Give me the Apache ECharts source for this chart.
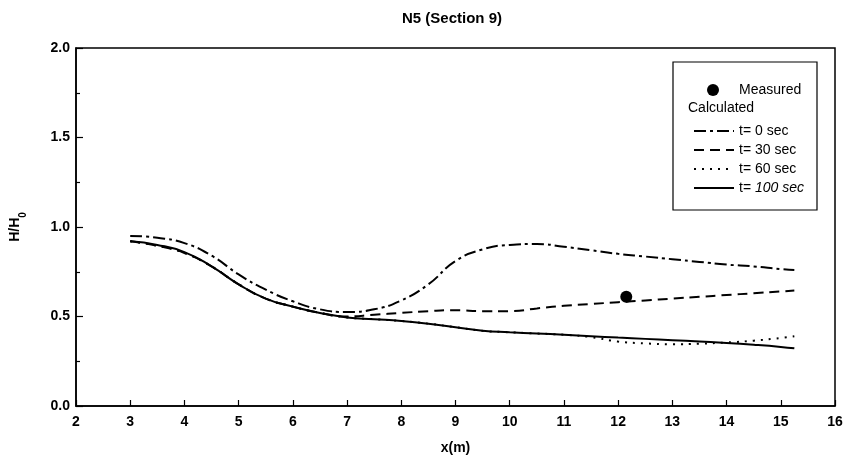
<!DOCTYPE html>
<html><head><meta charset="utf-8">
<script src="https://cdn.jsdelivr.net/npm/echarts@6/dist/echarts.min.js"></script>
<style>html,body{margin:0;padding:0;background:#fff}#c{width:850px;height:468px}</style>
</head><body><div id="c"></div>
<script>
const xs = [3,3.5,4,4.5,5,5.5,6,6.5,7,7.5,8,8.5,9,9.5,10,10.5,11,11.5,12,12.5,13,13.5,14,14.5,15,15.25];
const t0 = [0.95,0.94,0.91,0.84,0.735,0.65,0.585,0.54,0.525,0.54,0.59,0.68,0.81,0.875,0.9,0.905,0.89,0.87,0.85,0.835,0.82,0.805,0.79,0.78,0.765,0.76];
const t30 = [0.92,0.895,0.855,0.78,0.68,0.6,0.555,0.52,0.5,0.51,0.52,0.53,0.535,0.53,0.53,0.545,0.56,0.57,0.58,0.59,0.6,0.61,0.62,0.63,0.64,0.645];
const t60 = [0.92,0.895,0.855,0.78,0.68,0.6,0.555,0.52,0.495,0.485,0.475,0.46,0.44,0.42,0.412,0.405,0.398,0.385,0.36,0.35,0.345,0.348,0.355,0.365,0.38,0.39];
const t100 = [0.92,0.9,0.86,0.78,0.68,0.6,0.555,0.52,0.495,0.485,0.475,0.46,0.44,0.42,0.412,0.405,0.398,0.39,0.382,0.375,0.368,0.36,0.352,0.342,0.33,0.322];
const measuredX = [12.15];
const measuredY = [0.61];
const seriesNames = ['t= 0 sec','t= 30 sec','t= 60 sec','t= 100 sec'];
const xTicks = [2,16,1];
const yTicks = [0,2,0.5];

const pairs = (ys) => xs.map((x,i)=>[x,ys[i]]);
const font = 'Liberation Sans, Arial, sans-serif';
const chart = echarts.init(document.getElementById('c'));
const lw = 2;
chart.setOption({
  animation:false,
  backgroundColor:'#fff',
  title:{text:'N5 (Section 9)',left:447,top:6,textAlign:'center',
    textStyle:{fontFamily:font,fontWeight:'bold',fontSize:15,color:'#000'}},
  grid:{left:72,right:15,top:48,bottom:62,show:true,borderColor:'#000',borderWidth:1.5},
  xAxis:{type:'value',min:xTicks[0],max:xTicks[1],interval:xTicks[2],
    name:'x(m)',nameLocation:'middle',nameGap:35,
    nameTextStyle:{fontFamily:font,fontWeight:'bold',fontSize:14,color:'#000'},
    axisLine:{lineStyle:{color:'#000',width:1.5}},
    axisTick:{inside:true,length:6,lineStyle:{color:'#000',width:1.2}},
    splitLine:{show:false},
    axisLabel:{margin:9,fontFamily:font,fontWeight:'bold',fontSize:14,color:'#000'}},
  yAxis:{type:'value',min:yTicks[0],max:yTicks[1],interval:yTicks[2],
    name:'{a|H/H}{s|0}',nameLocation:'middle',nameGap:48,nameRotate:90,
    nameTextStyle:{rich:{a:{fontFamily:font,fontWeight:'bold',fontSize:14,color:'#000',lineHeight:20,verticalAlign:'top'},
      s:{fontFamily:font,fontWeight:'bold',fontSize:10,color:'#000',lineHeight:20,verticalAlign:'bottom',padding:[6,0,0,0]}}},
    axisLine:{lineStyle:{color:'#000',width:1.5}},
    axisTick:{inside:true,length:7,lineStyle:{color:'#000',width:1.2}},
    minorTick:{show:true,splitNumber:2,length:4,lineStyle:{color:'#000',width:1.2}},
    splitLine:{show:false},
    axisLabel:{margin:6,fontFamily:font,fontWeight:'bold',fontSize:14,color:'#000',
      formatter:v=>v.toFixed(1)}},
  legend:[
    {data:['Measured'],orient:'vertical',left:702,top:78,itemWidth:12,itemHeight:12,
      itemStyle:{color:'#000',opacity:1},
      textStyle:{fontFamily:font,fontSize:14,color:'#000',padding:[0,0,0,15]}},
    {data:seriesNames,orient:'vertical',left:688,top:119,itemWidth:40,itemHeight:14,itemGap:5,
      itemStyle:{color:'rgba(0,0,0,0)',borderWidth:0,opacity:0},
      formatter:n=> n==='t= 100 sec' ? '{n|t= }{i|100 sec}' : n,
      textStyle:{fontFamily:font,fontSize:14,color:'#000',
        rich:{n:{fontFamily:font,fontSize:14,color:'#000'},i:{fontFamily:font,fontSize:14,fontStyle:'italic',color:'#000'}}}}
  ],
  graphic:[
    {type:'rect',shape:{x:673,y:62,width:144,height:148},style:{fill:'none',stroke:'#000',lineWidth:1.2},z:100},
    {type:'text',left:688,top:101,style:{text:'Calculated',font:'14px '+font,fill:'#000'},z:100}
  ],
  series:[
    {name:'Measured',type:'scatter',data:measuredX.map((x,i)=>[x,measuredY[i]]),symbol:'circle',symbolSize:12,
      itemStyle:{color:'#000',opacity:1},z:5},
    {name:seriesNames[0],type:'line',data:pairs(t0),smooth:true,showSymbol:false,symbol:'none',
      lineStyle:{color:'#000',width:lw,type:[12,4,3,4]},itemStyle:{color:'#000'}},
    {name:seriesNames[1],type:'line',data:pairs(t30),smooth:true,showSymbol:false,symbol:'none',
      lineStyle:{color:'#000',width:lw,type:[10,6]},itemStyle:{color:'#000'}},
    {name:seriesNames[2],type:'line',data:pairs(t60),smooth:true,showSymbol:false,symbol:'none',
      lineStyle:{color:'#000',width:lw,type:[2,6]},itemStyle:{color:'#000'}},
    {name:seriesNames[3],type:'line',data:pairs(t100),smooth:true,showSymbol:false,symbol:'none',
      lineStyle:{color:'#000',width:lw,type:'solid'},itemStyle:{color:'#000'}}
  ]
});
</script></body></html>
